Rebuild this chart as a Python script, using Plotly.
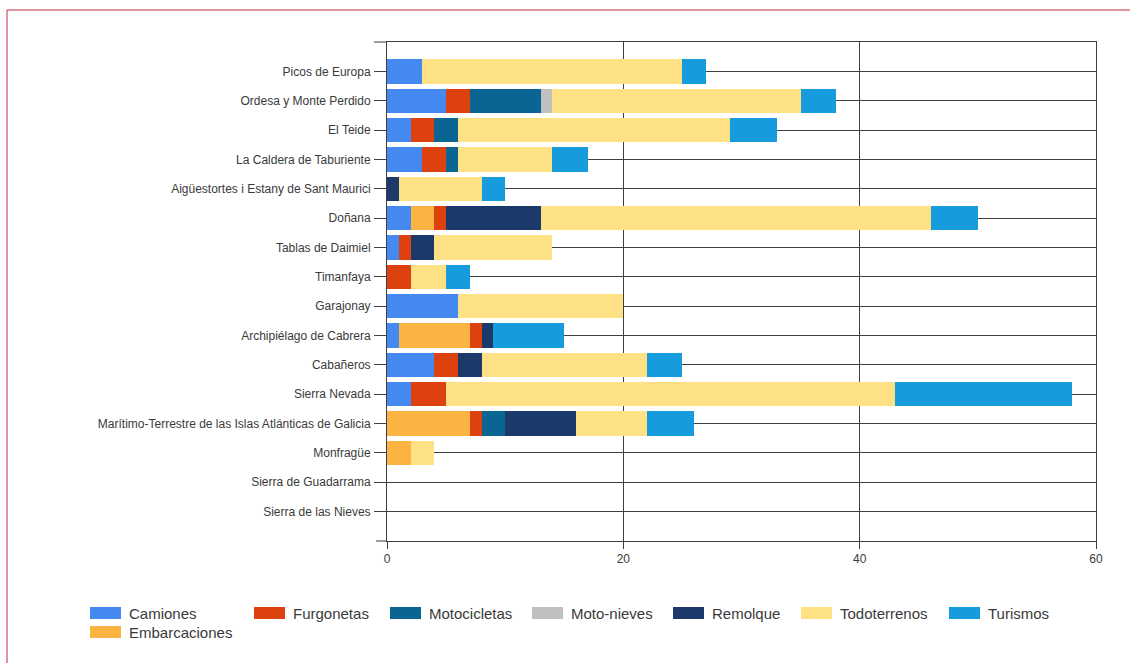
import plotly.graph_objects as go

parks = [
    "Picos de Europa",
    "Ordesa y Monte Perdido",
    "El Teide",
    "La Caldera de Taburiente",
    "Aigüestortes i Estany de Sant Maurici",
    "Doñana",
    "Tablas de Daimiel",
    "Timanfaya",
    "Garajonay",
    "Archipiélago de Cabrera",
    "Cabañeros",
    "Sierra Nevada",
    "Marítimo-Terrestre de las Islas Atlánticas de Galicia",
    "Monfragüe",
    "Sierra de Guadarrama",
    "Sierra de las Nieves",
]

camiones = [3, 5, 2, 3, 0, 2, 1, 0, 6, 1, 4, 2, 0, 0, 0, 0]
embarcaciones = [0, 0, 0, 0, 0, 2, 0, 0, 0, 6, 0, 0, 7, 2, 0, 0]
furgonetas = [0, 2, 2, 2, 0, 1, 1, 2, 0, 1, 2, 3, 1, 0, 0, 0]
motocicletas = [0, 6, 2, 1, 0, 0, 0, 0, 0, 0, 0, 0, 2, 0, 0, 0]
moto_nieves = [0, 1, 0, 0, 0, 0, 0, 0, 0, 0, 0, 0, 0, 0, 0, 0]
remolque = [0, 0, 0, 0, 1, 8, 2, 0, 0, 1, 2, 0, 6, 0, 0, 0]
todoterrenos = [22, 21, 23, 8, 7, 33, 10, 3, 14, 0, 14, 38, 6, 2, 0, 0]
turismos = [2, 3, 4, 3, 2, 4, 0, 2, 0, 6, 3, 15, 4, 0, 0, 0]

series_names = ["Camiones", "Embarcaciones", "Furgonetas", "Motocicletas",
                "Moto-nieves", "Remolque", "Todoterrenos", "Turismos"]
series_values = [camiones, embarcaciones, furgonetas, motocicletas,
                 moto_nieves, remolque, todoterrenos, turismos]

x_ticks = [0, 20, 40, 60]

colors = ["#4389ef", "#fbb442", "#dd410d", "#0b6592", "#c0c0c0",
          "#1b3a6b", "#fde184", "#169cdc"]

FONT = "Liberation Sans, Arial, sans-serif"
TXT = "#3a3a3a"
LINE = "#3f3f3f"

# plot area in pixels
W, H = 1130, 663
L, R, T, B = 387, 1096, 42, 541
PW, PH = R - L, B - T


def px_x(p):
    return (p - L) / PW


def px_y(p):
    return (B - p) / PH


fig = go.Figure()
for name, vals, col in zip(series_names, series_values, colors):
    fig.add_trace(go.Bar(
        y=parks, x=vals, name=name, orientation="h",
        marker=dict(color=col, line=dict(width=0)),
        showlegend=False,
    ))

shapes = []
annotations = []

# outer red frame
shapes.append(dict(type="rect", xref="paper", yref="paper",
                   x0=px_x(7), x1=px_x(1200), y0=px_y(700), y1=px_y(10),
                   line=dict(color="#c42a3c", width=1), fillcolor="rgba(0,0,0,0)",
                   layer="below"))
# tick extensions at top and bottom of the category axis
shapes.append(dict(type="line", xref="paper", yref="paper",
                   x0=px_x(374), x1=0, y0=1, y1=1,
                   line=dict(color=LINE, width=1)))
shapes.append(dict(type="line", xref="paper", yref="paper",
                   x0=px_x(376), x1=0, y0=0, y1=0,
                   line=dict(color=LINE, width=1)))

# custom legend
leg_x = [90, 90, 254, 390, 532, 673, 801, 949]
leg_y = [613, 632, 613, 613, 613, 613, 613, 613]
sw_w, sw_h = 31, 12
for name, col, lx, ly in zip(series_names, colors, leg_x, leg_y):
    shapes.append(dict(type="rect", xref="paper", yref="paper",
                       x0=px_x(lx), x1=px_x(lx + sw_w),
                       y0=px_y(ly + sw_h / 2), y1=px_y(ly - sw_h / 2),
                       line=dict(width=0), fillcolor=col))
    annotations.append(dict(xref="paper", yref="paper",
                            x=px_x(lx + sw_w + 6), y=px_y(ly),
                            xanchor="left", yanchor="middle",
                            text=name, showarrow=False,
                            font=dict(family=FONT, size=15, color=TXT)))

fig.update_layout(
    width=W, height=H,
    margin=dict(l=L, r=W - R, t=T, b=H - B, pad=0),
    barmode="stack",
    bargap=0.17,
    plot_bgcolor="white",
    paper_bgcolor="white",
    font=dict(family=FONT, size=12, color=TXT),
    shapes=shapes,
    annotations=annotations,
    showlegend=False,
    xaxis=dict(
        range=[0, 60], tickvals=x_ticks, ticktext=[str(v) for v in x_ticks],
        showgrid=True, gridcolor=LINE, gridwidth=1,
        zeroline=False, showline=True, linecolor=LINE, linewidth=1,
        mirror=True, ticks="outside", ticklen=7, tickcolor=LINE,
        tickfont=dict(family=FONT, size=12, color=TXT),
    ),
    yaxis=dict(
        type="category", categoryorder="array", categoryarray=parks,
        range=[16, -1],
        showgrid=True, gridcolor=LINE, gridwidth=1,
        zeroline=False, showline=True, linecolor=LINE, linewidth=1,
        mirror=True, ticks="outside", ticklen=12, tickcolor=LINE,
        tickfont=dict(family=FONT, size=12, color=TXT),
        ticklabelstandoff=1,
    ),
)

fig.write_html(
    "out.html",
    config={"displayModeBar": False},
    post_script="document.body.style.margin='0';document.body.style.overflow='hidden';",
)
